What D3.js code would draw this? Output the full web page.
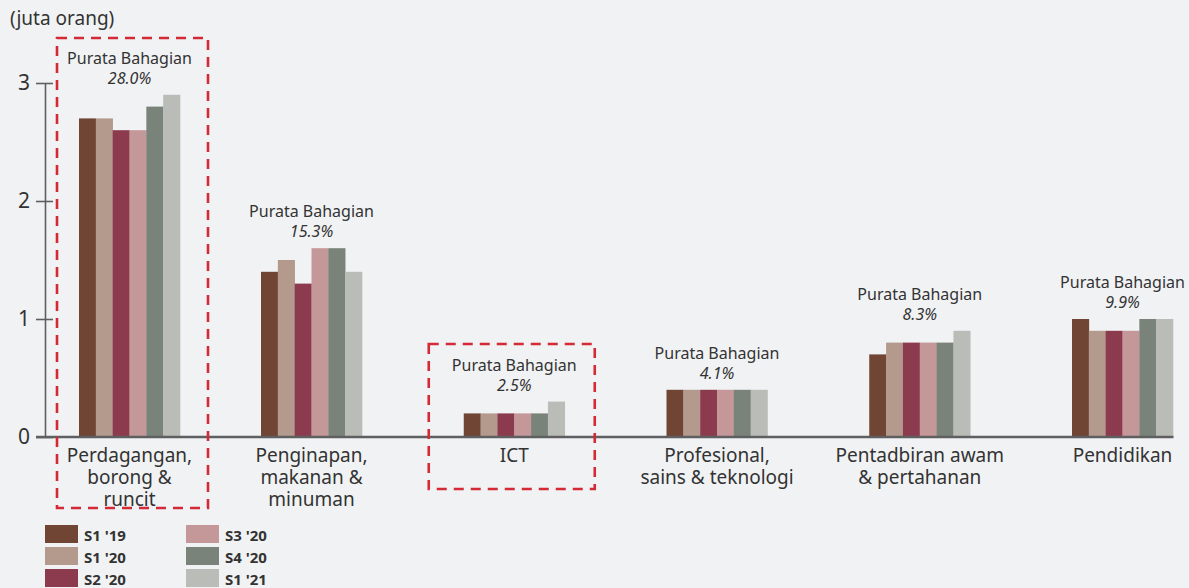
<!DOCTYPE html>
<html>
<head>
<meta charset="utf-8">
<script src="https://cdn.jsdelivr.net/npm/d3@7"></script>
<style>
  html, body { margin: 0; padding: 0; background: #f1f2f4; }
  svg { display: block; font-family: "Noto Sans", "Open Sans", sans-serif; }
</style>
</head>
<body>
<svg id="chart"></svg>
<script>
// Data (million persons)
const categories = ["Perdagangan, borong & runcit", "Penginapan, makanan & minuman", "ICT",
    "Profesional, sains & teknologi", "Pentadbiran awam & pertahanan", "Pendidikan"];
const categoryLines = [
    ["Perdagangan,", "borong &", "runcit"],
    ["Penginapan,", "makanan &", "minuman"],
    ["ICT"],
    ["Profesional,", "sains & teknologi"],
    ["Pentadbiran awam", "& pertahanan"],
    ["Pendidikan"]
];
const seriesNames = ["S1 '19", "S1 '20", "S2 '20", "S3 '20", "S4 '20", "S1 '21"];
const s1_19 = [2.7, 1.4, 0.2, 0.4, 0.7, 1.0];
const s1_20 = [2.7, 1.5, 0.2, 0.4, 0.8, 0.9];
const s2_20 = [2.6, 1.3, 0.2, 0.4, 0.8, 0.9];
const s3_20 = [2.6, 1.6, 0.2, 0.4, 0.8, 0.9];
const s4_20 = [2.8, 1.6, 0.2, 0.4, 0.8, 1.0];
const s1_21 = [2.9, 1.4, 0.3, 0.4, 0.9, 1.0];
const shares = ["28.0%", "15.3%", "2.5%", "4.1%", "8.3%", "9.9%"];
const highlighted = ["Perdagangan, borong & runcit", "ICT"];
const yTicks = [0, 1, 2, 3];

const seriesValues = [s1_19, s1_20, s2_20, s3_20, s4_20, s1_21];
const colors = ["#714533", "#b39a8c", "#8c3b4f", "#c49798", "#7a837a", "#babcb8"];

const width = 1189, height = 588;
const svg = d3.select("#chart").attr("width", width).attr("height", height);

// Scales
const y = d3.scaleLinear().domain([0, 3]).range([437, 83]);
// group centres: first group sits a little closer to the axis than the regular spacing
const xIndex = d3.scaleLinear().domain([0, 1, 5]).range([129.5, 311.5, 1122.5]);
const xCenter = c => xIndex(categories.indexOf(c));
const xInner = d3.scaleBand().domain(seriesNames).range([-50.5, 50.5]).padding(0);

const rows = categories.map((c, i) => ({
    category: c,
    lines: categoryLines[i],
    share: shares[i],
    values: seriesNames.map((s, j) => ({ series: s, value: seriesValues[j][i], color: colors[j] }))
}));

// Unit label
svg.append("text")
    .attr("x", 10).attr("y", 25)
    .attr("font-size", 19).attr("fill", "#333")
    .text("(juta orang)");

// Y axis
const yAxis = d3.axisLeft(y).tickValues(yTicks).tickFormat(d3.format("d")).tickSizeOuter(0).tickSizeInner(9).tickPadding(6);
const yg = svg.append("g").attr("transform", "translate(45,0)").call(yAxis);
yg.select(".domain").attr("stroke", "#5f5f62").attr("stroke-width", 1.6);
yg.selectAll(".tick line").attr("x1", -9).attr("x2", 8).attr("stroke", "#5f5f62").attr("stroke-width", 1.6);
yg.selectAll(".tick text").attr("font-size", 21).attr("fill", "#333").attr("font-family", "Noto Sans, sans-serif");

// Bars
const groups = svg.selectAll(".grp").data(rows).enter().append("g")
    .attr("class", "grp")
    .attr("transform", d => `translate(${xCenter(d.category)},0)`);

groups.selectAll("rect").data(d => d.values).enter().append("rect")
    .attr("x", d => xInner(d.series))
    .attr("y", d => y(d.value))
    .attr("width", xInner.bandwidth() + 0.3)
    .attr("height", d => y(0) - y(d.value))
    .attr("fill", d => d.color);

// Baseline
svg.append("line")
    .attr("x1", 36).attr("x2", xCenter(categories[categories.length - 1]) + 51)
    .attr("y1", y(0)).attr("y2", y(0))
    .attr("stroke", "#5f5f62").attr("stroke-width", 2.5);

// Share annotations
groups.each(function (d) {
    const top = y(d3.max(d.values, v => v.value));
    const g = d3.select(this);
    g.append("text")
        .attr("y", top - 31).attr("text-anchor", "middle")
        .attr("font-size", 16).attr("fill", "#333")
        .text("Purata Bahagian");
    g.append("text")
        .attr("y", top - 11).attr("text-anchor", "middle")
        .attr("font-size", 16).attr("font-style", "italic").attr("fill", "#333")
        .text(d.share);
});

// Category labels
groups.append("text")
    .attr("text-anchor", "middle")
    .attr("font-size", 19).attr("fill", "#333")
    .selectAll("tspan").data(d => d.lines).enter().append("tspan")
    .attr("x", 0)
    .attr("y", (d, i) => 462 + i * 22)
    .text(d => d);

// Highlight boxes
const boxes = [
    { category: highlighted[0], x0: -72.5, x1: 78.5, y0: 38, y1: 508 },
    { category: highlighted[1], x0: -85.5, x1: 80.5, y0: 344, y1: 489 }
];
svg.selectAll(".hl").data(boxes).enter().append("rect")
    .attr("class", "hl")
    .attr("x", d => xCenter(d.category) + d.x0)
    .attr("y", d => d.y0)
    .attr("width", d => d.x1 - d.x0)
    .attr("height", d => d.y1 - d.y0)
    .attr("fill", "none")
    .attr("stroke", "#d42a35")
    .attr("stroke-width", 2.6)
    .attr("stroke-dasharray", "10,7");

// Legend
const legend = svg.append("g");
const legendItems = legend.selectAll("g").data(seriesNames).enter().append("g")
    .attr("transform", (d, i) => `translate(${45 + Math.floor(i / 3) * 141},${525 + (i % 3) * 22})`);
legendItems.append("rect")
    .attr("width", 33).attr("height", 18)
    .attr("fill", (d, i) => colors[i]);
legendItems.append("text")
    .attr("x", 39).attr("y", 16)
    .attr("font-size", 15).attr("font-weight", "bold").attr("fill", "#333")
    .text(d => d);
</script>
</body>
</html>
